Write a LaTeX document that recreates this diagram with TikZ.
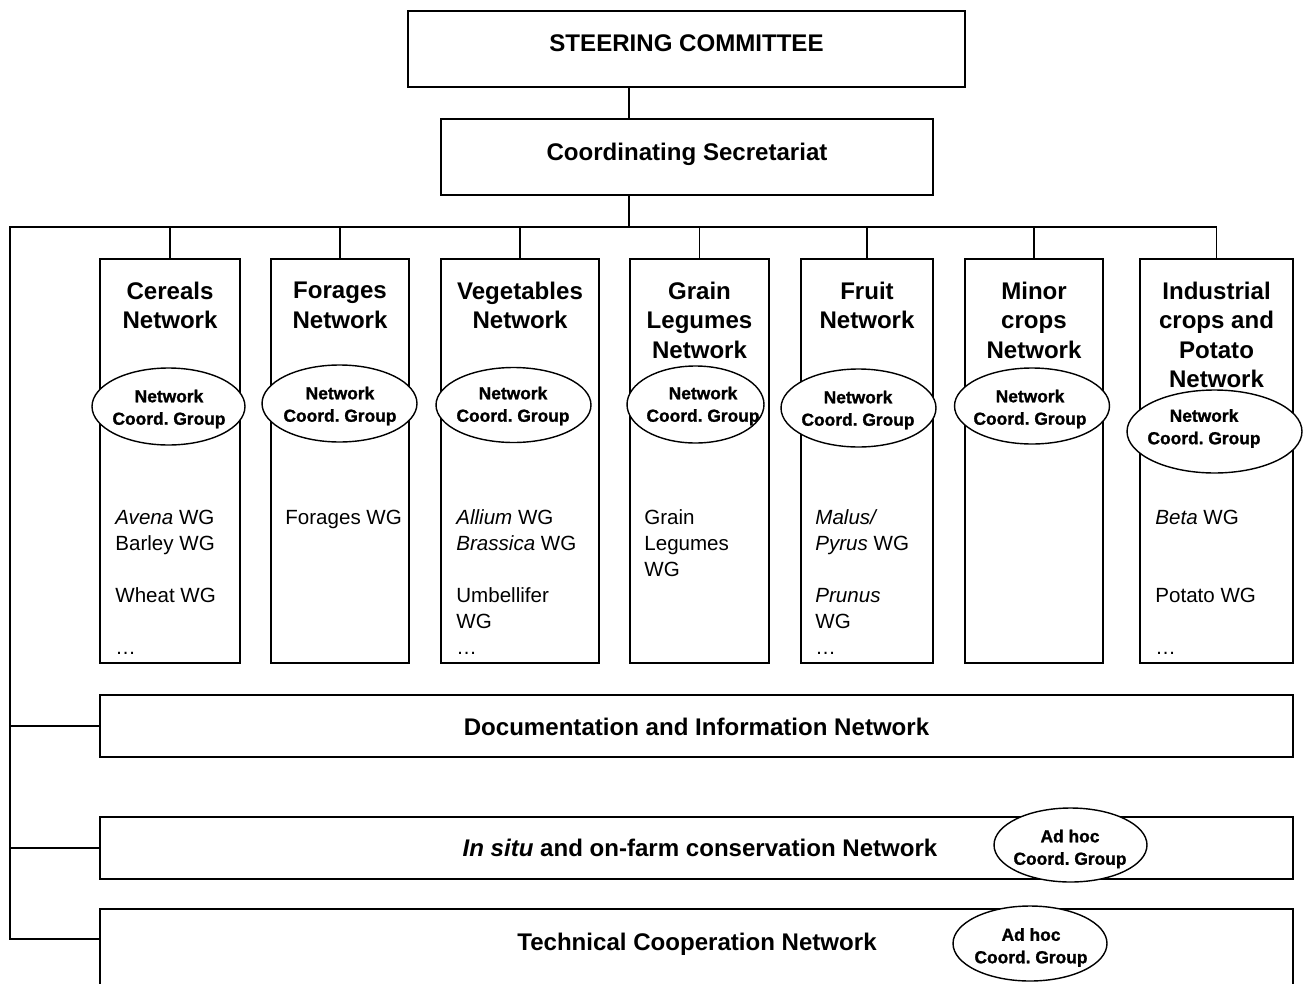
\documentclass[tikz,border=0pt]{standalone}
\usepackage{fontspec}
\setmainfont{Liberation Sans}
\newfontfamily\cgfont{Liberation Sans}[BoldFeatures={FakeBold=1.3}]
\usetikzlibrary{shapes.geometric,positioning}
\tikzset{
  box/.style={draw, line width=1.1pt, inner sep=0pt},
  link/.style={line width=1.1pt},
  head/.style={font=\fontsize{13.7}{16.8}\selectfont\bfseries, align=center, inner sep=0pt},
  wg/.style={font=\fontsize{11.7}{14.8}\selectfont, align=left, anchor=north west, inner sep=0pt},
  cg/.style={ellipse, draw, fill=white, line width=0.8pt, inner sep=0pt},
  cgtext/.style={font=\fontsize{9.9}{12.8}\cgfont\bfseries\frenchspacing, align=center, inner sep=0pt}
}
\begin{document}
\begin{tikzpicture}[x=0.02cm,y=-0.02cm]
\useasboundingbox (0,0) rectangle (1307,983);
\clip (0,0) rectangle (1307,983);
%top
\node[box, minimum width=11.14cm, minimum height=1.52cm] (steer) at (686.5,49) {};
\node[head, anchor=base] (steerT) at ([yshift=-0.05cm]steer.center) {STEERING COMMITTEE};
\node[box, minimum width=9.84cm, minimum height=1.52cm] (sec) at (687,157) {};
\node[head, anchor=base] (secT) at ([yshift=-0.07cm]sec.center) {Coordinating Secretariat};
%networks
\node[box, minimum width=2.8cm, minimum height=8.08cm] (cer) at (170,461) {};
\node[box, minimum width=2.76cm, minimum height=8.08cm] (forg) at (340,461) {};
\node[box, minimum width=3.16cm, minimum height=8.08cm] (veg) at (520,461) {};
\node[box, minimum width=2.78cm, minimum height=8.08cm] (grain) at (699.5,461) {};
\node[box, minimum width=2.64cm, minimum height=8.08cm] (fruit) at (867,461) {};
\node[box, minimum width=2.76cm, minimum height=8.08cm] (minor) at (1034,461) {};
\node[box, minimum width=3.06cm, minimum height=8.08cm] (ind) at (1216.5,461) {};
\node[head, anchor=north] (cerT) at ([yshift=-0.47cm]cer.north) {Cereals\\Network};
\node[head, anchor=north] (forgT) at ([yshift=-0.47cm]forg.north) {Forages\\Network};
\node[head, anchor=north] (vegT) at ([yshift=-0.47cm]veg.north) {Vegetables\\Network};
\node[head, anchor=north] (grainT) at ([yshift=-0.47cm]grain.north) {Grain\\Legumes\\Network};
\node[head, anchor=north] (fruitT) at ([yshift=-0.47cm]fruit.north) {Fruit\\Network};
\node[head, anchor=north] (minorT) at ([yshift=-0.47cm]minor.north) {Minor\\crops\\Network};
\node[head, anchor=north] (indT) at ([yshift=-0.47cm]ind.north) {Industrial\\crops and\\Potato\\Network};
%working groups
\node[wg] (cerW) at ([xshift=0.32cm,yshift=-5.03cm]cer.north west) {\textit{Avena} WG\\Barley WG\\[14.8pt]Wheat WG\\[14.8pt]…};
\node[wg] (forgW) at ([xshift=0.3cm,yshift=-5.03cm]forg.north west) {Forages WG};
\node[wg] (vegW) at ([xshift=0.32cm,yshift=-5.03cm]veg.north west) {\textit{Allium} WG\\\textit{Brassica} WG\\[14.8pt]Umbellifer\\WG\\…};
\node[wg] (grainW) at ([xshift=0.3cm,yshift=-5.03cm]grain.north west) {Grain\\Legumes\\WG};
\node[wg] (fruitW) at ([xshift=0.3cm,yshift=-5.03cm]fruit.north west) {\textit{Malus/}\\\textit{Pyrus} WG\\[14.8pt]\textit{Prunus}\\WG\\…};
\node[wg] (indW) at ([xshift=0.32cm,yshift=-5.03cm]ind.north west) {\textit{Beta} WG\\[29.6pt]Potato WG\\[14.8pt]…};
%coordination groups
\node[cg, minimum width=3.06cm, minimum height=1.54cm] (cerE) at (168.5,406.5) {};
\node[cgtext] (cerC) at (169,409) {Network\\Coord. Group};
\node[cg, minimum width=3.1cm, minimum height=1.54cm] (forgE) at (339.5,403.5) {};
\node[cgtext] (forgC) at (340,406) {Network\\Coord. Group};
\node[cg, minimum width=3.1cm, minimum height=1.5cm] (vegE) at (513.5,405) {};
\node[cgtext] (vegC) at (513,406) {Network\\Coord. Group};
\node[cg, minimum width=2.74cm, minimum height=1.54cm] (grainE) at (695.5,404.5) {};
\node[cgtext] (grainC) at (703,406) {Network\\Coord. Group};
\node[cg, minimum width=3.1cm, minimum height=1.56cm] (fruitE) at (858.5,408) {};
\node[cgtext] (fruitC) at (858,410) {Network\\Coord. Group};
\node[cg, minimum width=3.1cm, minimum height=1.52cm] (minorE) at (1032,406) {};
\node[cgtext] (minorC) at (1030,409) {Network\\Coord. Group};
\node[cg, minimum width=3.5cm, minimum height=1.66cm] (indE) at (1214.5,431.5) {};
\node[cgtext] (indC) at (1204,428.5) {Network\\Coord. Group};
%lower networks
\node[box, minimum width=23.86cm, minimum height=1.24cm] (doc) at (696.5,726) {};
\node[head, anchor=base] (docT) at ([yshift=-0.19cm]doc.center) {Documentation and Information Network};
\node[box, minimum width=23.86cm, minimum height=1.24cm] (insitu) at (696.5,848) {};
\node[head, anchor=base] (insituT) at ([xshift=0.07cm,yshift=-0.17cm]insitu.center) {\textit{In situ} and on-farm conservation Network};
\node[box, minimum width=23.86cm, minimum height=2cm] (tech) at (696.5,959) {};
\node[head, anchor=base] (techT) at (697,950.6) {Technical Cooperation Network};
\node[cg, minimum width=3.06cm, minimum height=1.48cm] (adhocA) at (1070.5,845) {};
\node[cgtext] (adhocAT) at (1070,849) {Ad hoc\\Coord. Group};
\node[cg, minimum width=3.08cm, minimum height=1.5cm] (adhocB) at (1030,943.5) {};
\node[cgtext] (adhocBT) at (1031,947.5) {Ad hoc\\Coord. Group};
%connectors
\coordinate (bus) at (629,227);
\coordinate (busL) at (10,227);
\coordinate (tj) at (tech.west |- 0,939);
\draw[link] (steer.south -| bus) -- (sec.north -| bus);
\draw[link] (sec.south -| bus) -- (bus);
\draw[link] (ind.north |- bus) -- (busL) -- (busL |- tj) -- (tj);
\foreach \n in {cer,forg,veg,grain,fruit,minor,ind}
  \draw[link] (\n.north) -- (\n.north |- bus);
\draw[link] (busL |- doc.west) -- (doc.west);
\draw[link] (busL |- insitu.west) -- (insitu.west);
\end{tikzpicture}
\end{document}
